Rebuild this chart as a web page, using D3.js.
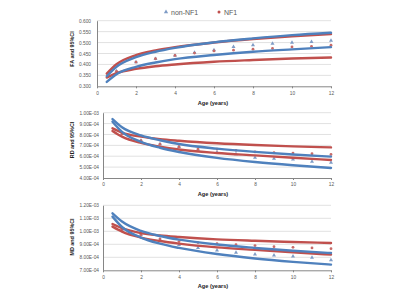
<!DOCTYPE html>
<html>
<head>
<meta charset="utf-8">
<script src="https://cdn.jsdelivr.net/npm/d3@7"></script>
<style>
  body { margin: 0; background: #fff; }
  svg { display: block; font-family: "Liberation Sans", Arial, sans-serif; }
  .domain { stroke: #868686; }
  .tick line { stroke: #868686; }
  .tick text { fill: #595959; font-size: 4.8px; }
</style>
</head>
<body>
<div id="chart-area"></div>
<script>
// fitted curve sample ages and yearly mean ages
const curveAges = [0.5, 1, 2, 3, 4, 6, 8, 10, 12];
const meanAges = [1, 2, 3, 4, 5, 6, 7, 8, 9, 10, 11, 12];
const xTicks = [0, 2, 4, 6, 8, 10, 12];

// FA
const faTicks = [0.3, 0.35, 0.4, 0.45, 0.5, 0.55, 0.6];
const faNonUpper = [0.346, 0.389, 0.433, 0.458, 0.476, 0.501, 0.519, 0.534, 0.545];
const faNonLower = [0.320, 0.355, 0.389, 0.409, 0.424, 0.443, 0.458, 0.469, 0.479];
const faNfUpper = [0.358, 0.401, 0.443, 0.464, 0.479, 0.500, 0.516, 0.529, 0.539];
const faNfLower = [0.340, 0.360, 0.380, 0.392, 0.400, 0.412, 0.420, 0.427, 0.432];
const faNonMean = [0.370, 0.411, 0.426, 0.441, 0.454, 0.466, 0.480, 0.489, 0.495, 0.500, 0.503, 0.509];
const faNfMean = [0.368, 0.411, 0.426, 0.441, 0.452, 0.462, 0.465, 0.470, 0.473, 0.480, 0.483, 0.488];

// RD
const rdTicks = [4e-4, 5e-4, 6e-4, 7e-4, 8e-4, 9e-4, 10e-4];
const rdNonUpper = [9.42e-4, 8.67e-4, 7.91e-4, 7.47e-4, 7.12e-4, 6.70e-4, 6.40e-4, 6.16e-4, 5.96e-4];
const rdNonLower = [9.17e-4, 8.24e-4, 7.32e-4, 6.78e-4, 6.39e-4, 5.85e-4, 5.47e-4, 5.17e-4, 4.92e-4];
const rdNfUpper = [8.56e-4, 8.18e-4, 7.80e-4, 7.57e-4, 7.42e-4, 7.19e-4, 7.03e-4, 6.91e-4, 6.81e-4];
const rdNfLower = [8.32e-4, 7.80e-4, 7.22e-4, 6.88e-4, 6.62e-4, 6.30e-4, 6.08e-4, 5.86e-4, 5.65e-4];
const rdNonMean = [8.05e-4, 7.43e-4, 7.12e-4, 6.87e-4, 6.62e-4, 6.35e-4, 6.20e-4, 5.87e-4, 5.78e-4, 5.71e-4, 5.50e-4, 5.41e-4];
const rdNfMean = [8.05e-4, 7.43e-4, 7.12e-4, 6.87e-4, 6.66e-4, 6.66e-4, 6.54e-4, 6.40e-4, 6.32e-4, 6.29e-4, 6.23e-4, 6.17e-4];

// MD
const mdTicks = [7e-4, 8e-4, 9e-4, 10e-4, 11e-4, 12e-4];
const mdNonUpper = [11.38e-4, 10.75e-4, 10.03e-4, 9.64e-4, 9.36e-4, 8.98e-4, 8.72e-4, 8.50e-4, 8.33e-4];
const mdNonLower = [11.13e-4, 10.33e-4, 9.52e-4, 9.05e-4, 8.72e-4, 8.25e-4, 7.91e-4, 7.65e-4, 7.44e-4];
const mdNfUpper = [10.56e-4, 10.24e-4, 9.86e-4, 9.68e-4, 9.56e-4, 9.38e-4, 9.27e-4, 9.18e-4, 9.10e-4];
const mdNfLower = [10.36e-4, 9.98e-4, 9.52e-4, 9.25e-4, 9.05e-4, 8.76e-4, 8.57e-4, 8.38e-4, 8.21e-4];
const mdNonMean = [10.13e-4, 9.74e-4, 9.35e-4, 8.95e-4, 8.72e-4, 8.54e-4, 8.36e-4, 8.23e-4, 8.15e-4, 8.08e-4, 7.97e-4, 7.78e-4];
const mdNfMean = [10.13e-4, 9.74e-4, 9.41e-4, 9.21e-4, 9.13e-4, 9.05e-4, 8.97e-4, 8.90e-4, 8.82e-4, 8.77e-4, 8.72e-4, 8.66e-4];

const blue = "#4f81bd";
const red = "#c0504d";

const svg = d3.select("#chart-area").append("svg")
    .attr("width", 400)
    .attr("height", 300);

function sci(v) {
  const e = Math.round(Math.log10(v) - 0.4999);
  const m = v / Math.pow(10, e);
  return m.toFixed(2) + "E-" + String(-e).padStart(2, "0");
}

function panel(p) {
  const x = d3.scaleLinear().domain([0, 12]).range([p.left, 331]);
  const y = d3.scaleLinear().domain(d3.extent(p.ticks)).range([p.bottom, p.top]);

  const g = svg.append("g");

  g.selectAll("line.grid").data(p.ticks.slice(1)).enter().append("line")
      .attr("class", "grid")
      .attr("x1", p.left).attr("x2", 331)
      .attr("y1", (d) => y(d)).attr("y2", (d) => y(d))
      .attr("stroke", "#d9d9d9").attr("stroke-width", 0.8);

  g.append("g")
      .attr("transform", "translate(0," + p.bottom + ")")
      .call(d3.axisBottom(x).tickValues(xTicks).tickSize(2).tickSizeOuter(0));

  g.append("g")
      .attr("transform", "translate(" + p.left + ",0)")
      .call(d3.axisLeft(y).tickValues(p.ticks).tickSize(0).tickPadding(p.pad).tickFormat(p.fmt));

  g.append("text")
      .attr("transform", "translate(74," + p.titleY + ") rotate(-90)")
      .attr("text-anchor", "middle")
      .attr("font-size", "5.4px").attr("font-weight", "bold").attr("fill", "#222")
      .text(p.title);

  g.append("text")
      .attr("x", 213).attr("y", p.ageY)
      .attr("text-anchor", "middle")
      .attr("font-size", "5.6px").attr("font-weight", "bold").attr("fill", "#222")
      .text("Age (years)");

  const line = d3.line()
      .x((d, i) => x(curveAges[i]))
      .y((d) => y(d))
      .curve(d3.curveMonotoneX);

  // yearly means
  g.selectAll("path.tri").data(p.nonMean).enter().append("path")
      .attr("class", "tri")
      .attr("d", d3.symbol(d3.symbolTriangle, 7))
      .attr("transform", (d, i) => "translate(" + x(meanAges[i]) + "," + y(d) + ")")
      .attr("fill", "#7f9cc6");
  g.selectAll("circle.dot").data(p.nfMean).enter().append("circle")
      .attr("class", "dot")
      .attr("cx", (d, i) => x(meanAges[i]))
      .attr("cy", (d) => y(d))
      .attr("r", 1.4)
      .attr("fill", "#c86a68");

  [[p.nfUpper, red], [p.nfLower, red], [p.nonUpper, blue], [p.nonLower, blue]].forEach((s) => {
    g.append("path")
        .attr("d", line(s[0]))
        .attr("fill", "none")
        .attr("stroke", s[1])
        .attr("stroke-width", 2.4)
        .attr("stroke-linecap", "round");
  });
}

panel({top: 20.7, bottom: 86.3, left: 97, pad: 6, ticks: faTicks, fmt: d3.format(".3f"),
  title: "FA and 95%CI", titleY: 49, ageY: 105,
  nonUpper: faNonUpper, nonLower: faNonLower, nfUpper: faNfUpper, nfLower: faNfLower,
  nonMean: faNonMean, nfMean: faNfMean});

panel({top: 112.7, bottom: 178, left: 103, pad: 4, ticks: rdTicks, fmt: sci,
  title: "RD and 95%CI", titleY: 140, ageY: 196,
  nonUpper: rdNonUpper, nonLower: rdNonLower, nfUpper: rdNfUpper, nfLower: rdNfLower,
  nonMean: rdNonMean, nfMean: rdNfMean});

panel({top: 205.3, bottom: 270.3, left: 103, pad: 4, ticks: mdTicks, fmt: sci,
  title: "MD and 95%CI", titleY: 237, ageY: 288,
  nonUpper: mdNonUpper, nonLower: mdNonLower, nfUpper: mdNfUpper, nfLower: mdNfLower,
  nonMean: mdNonMean, nfMean: mdNfMean});

// legend
const legend = svg.append("g");
legend.append("path")
    .attr("d", d3.symbol(d3.symbolTriangle, 8))
    .attr("transform", "translate(166,12)")
    .attr("fill", "#7f9cc6");
legend.append("text")
    .attr("x", 171).attr("y", 14.5)
    .attr("font-size", "7px").attr("fill", "#595959")
    .text("non-NF1");
legend.append("circle")
    .attr("cx", 219).attr("cy", 12).attr("r", 1.5)
    .attr("fill", red);
legend.append("text")
    .attr("x", 224).attr("y", 14.5)
    .attr("font-size", "7px").attr("fill", "#595959")
    .text("NF1");
</script>
</body>
</html>
